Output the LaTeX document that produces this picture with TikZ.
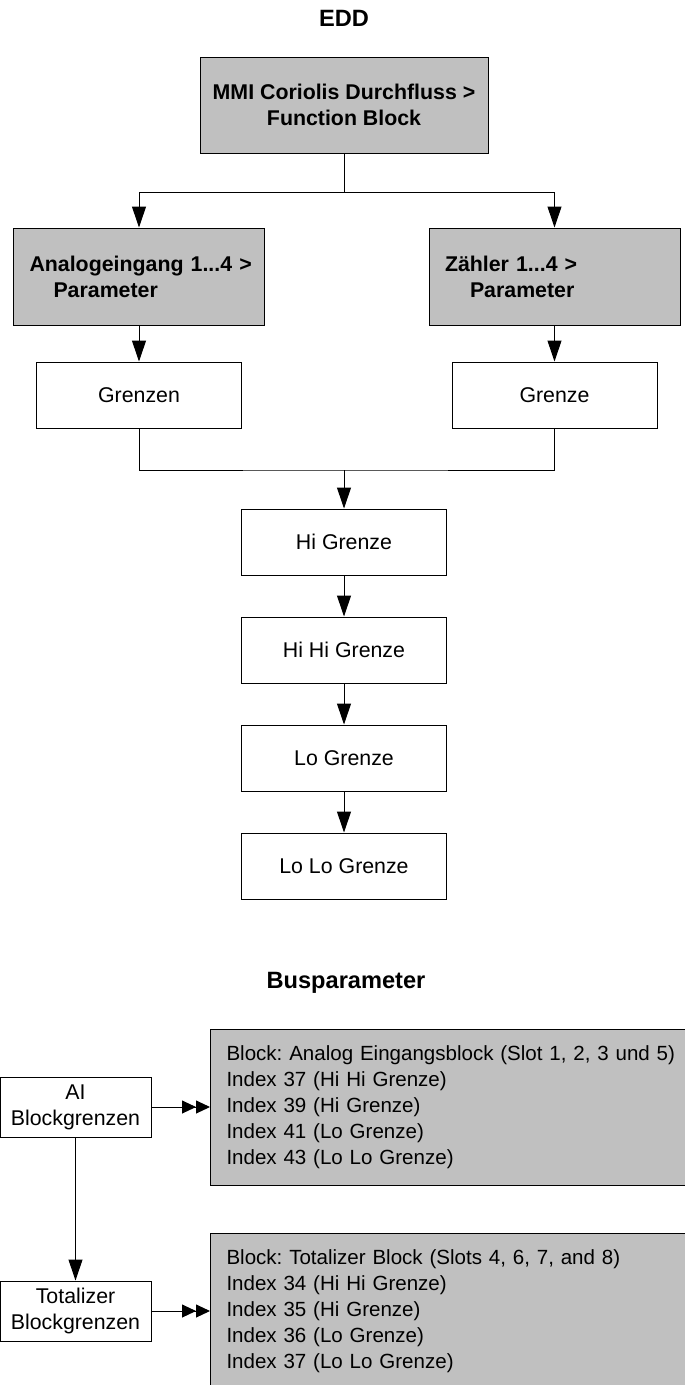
\documentclass[tikz,border=0pt]{standalone}
\usepackage{fontspec}
\setmainfont{Liberation Sans}
\usetikzlibrary{arrows.meta}
\definecolor{boxgray}{HTML}{C0C0C0}
\frenchspacing

\begin{document}
\begin{tikzpicture}[x=0.75pt, y=-0.75pt,
    every node/.style={font=\fontsize{16}{19.5}\selectfont},
    box/.style={draw, line width=0.75pt, minimum width=153.75pt, minimum height=49.5pt, inner sep=0pt, align=center},
    smallbox/.style={draw, line width=0.75pt, minimum width=113.25pt, minimum height=45pt, inner sep=0pt, align=center},
    graybox/.style={draw, line width=0.75pt, fill=boxgray, font=\bfseries\fontsize{16}{19.5}\selectfont},
    parbox/.style={graybox, align=left, text width=164.25pt, inner xsep=12pt, inner ysep=0pt, minimum height=72.75pt},
    busbox/.style={draw, line width=0.75pt, fill=boxgray, anchor=north west, align=left, text width=380pt, inner xsep=12pt, inner ysep=0pt, minimum height=117pt, font=\fontsize{15.4}{19.5}\selectfont},
    title/.style={font=\bfseries\fontsize{17.7}{21}\selectfont},
    arr/.style={line width=0.75pt, -{Triangle[width=10.5pt,length=15.75pt]}},
    dblarr/.style={line width=0.75pt, -{Triangle[width=9.75pt,length=10.5pt]Triangle[width=9.75pt,length=10.5pt]}},
    line/.style={line width=0.75pt}]
    \useasboundingbox (0,0) rectangle (685,1385);
    \clip (0,0) rectangle (685,1385);
    % EDD
    \node[title] (edd) at (344,18) {EDD};
    \node[graybox, align=center, minimum width=216pt, minimum height=72pt, inner sep=0pt] (fb) at (344,105) {MMI Coriolis Durchfluss >\\Function Block};
    \node[parbox] (ai) at (139,276.5) {\mbox{Analogeingang 1...4 >}\\\hspace*{18pt}Parameter};
    \node[parbox] (zl) at (554.5,276.5) {Zähler 1...4 >\\\hspace*{18.75pt}Parameter};
    \coordinate (split) at (344,192);
    \draw[line] (fb) -- (split);
    \draw[arr] (split) -| (ai.north);
    \draw[arr] (split) -| (zl.north);
    % Grenzen
    \node[box] (gzn) at (139,395) {Grenzen};
    \node[box] (gz) at (554.5,395) {Grenze};
    \draw[arr] (ai) -- (gzn);
    \draw[arr] (zl) -- (gz);
    \coordinate (join) at (344,470);
    \draw[line] (gzn.south) |- (join) -| (gz.south);
    % Kette
    \node[box] (hi) at (344,542) {Hi Grenze};
    \node[box] (hihi) at (344,650) {Hi Hi Grenze};
    \node[box] (lo) at (344,758) {Lo Grenze};
    \node[box] (lolo) at (344,866) {Lo Lo Grenze};
    \draw[arr] (join) -- (hi);
    \draw[arr] (hi) -- (hihi);
    \draw[arr] (hihi) -- (lo);
    \draw[arr] (lo) -- (lolo);
    % Busparameter
    \node[title] (bus) at (346,983) {Busparameter};
    \node[smallbox] (aiblk) at (75.5,1107) {AI\\Blockgrenzen};
    \node[smallbox] (totblk) at (75.5,1311) {Totalizer\\Blockgrenzen};
    \node[busbox] (blk1) at (210,1029) {Block: Analog Eingangsblock (Slot 1, 2, 3 und 5)\\Index 37 (Hi Hi Grenze)\\Index 39 (Hi Grenze)\\Index 41 (Lo Grenze)\\Index 43 (Lo Lo Grenze)};
    \node[busbox] (blk2) at (210,1233) {Block: Totalizer Block (Slots 4, 6, 7, and 8)\\Index 34 (Hi Hi Grenze)\\Index 35 (Hi Grenze)\\Index 36 (Lo Grenze)\\Index 37 (Lo Lo Grenze)};
    \draw[arr] (aiblk) -- (totblk);
    \draw[dblarr] (aiblk.east) -- (aiblk.east -| blk1.west);
    \draw[dblarr] (totblk.east) -- (totblk.east -| blk2.west);
\end{tikzpicture}
\end{document}
